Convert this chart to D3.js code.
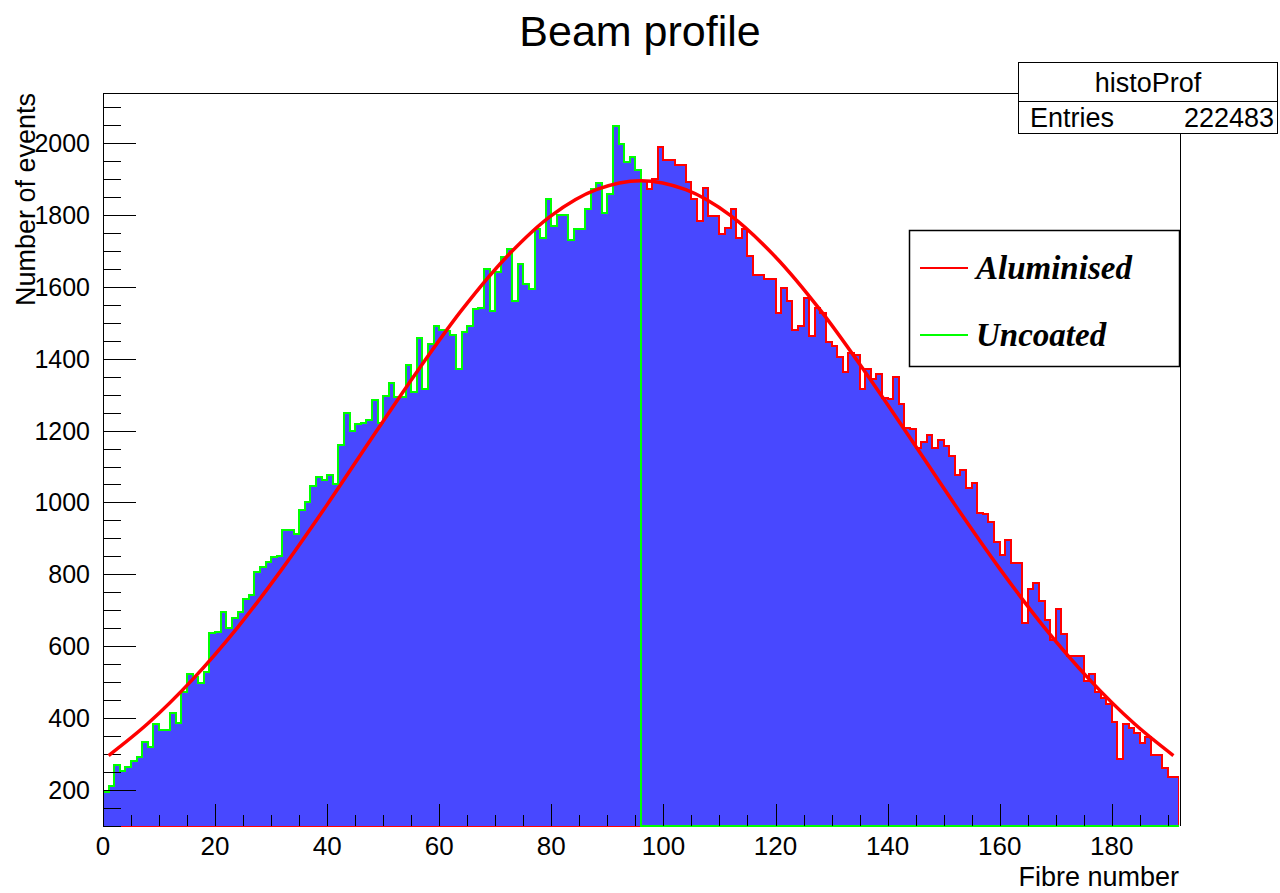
<!DOCTYPE html>
<html>
<head>
<meta charset="utf-8">
<script src="https://cdn.jsdelivr.net/npm/d3@7"></script>
<style>
  html, body { margin: 0; padding: 0; background: #fff; }
  svg { display: block; font-family: "Liberation Sans", Arial, Helvetica, sans-serif; }
</style>
</head>
<body>
<svg id="chart" width="1280" height="893"></svg>
<script>
// ---- data -------------------------------------------------------------
// Counts per fibre, fibres 0..95 (uncoated, green outline)
const uncoatedCounts = [
  195, 211, 270, 254, 265, 281, 292, 334, 320, 384,
  367, 367, 414, 386, 473, 523, 515, 498, 529, 637,
  640, 695, 651, 679, 695, 731, 743, 807, 821, 834,
  849, 850, 924, 924, 912, 980, 1000, 1045, 1071, 1063,
  1075, 1052, 1161, 1248, 1198, 1217, 1221, 1228, 1286, 1221,
  1296, 1333, 1292, 1292, 1382, 1307, 1458, 1317, 1441, 1490,
  1481, 1478, 1467, 1370, 1475, 1490, 1537, 1541, 1650, 1532,
  1640, 1684, 1704, 1560, 1662, 1609, 1593, 1760, 1737, 1845,
  1769, 1800, 1800, 1731, 1760, 1760, 1816, 1871, 1888, 1806,
  1857, 2046, 1997, 1948, 1962, 1925
];
// Counts per fibre, fibres 96..191 (aluminised, red outline)
const aluminisedCounts = [
  1894, 1871, 1899, 1990, 1953, 1953, 1938, 1938, 1891, 1843,
  1783, 1876, 1797, 1797, 1746, 1764, 1816, 1737, 1760, 1686,
  1632, 1632, 1622, 1622, 1527, 1597, 1560, 1479, 1490, 1569,
  1464, 1542, 1527, 1447, 1435, 1404, 1362, 1416, 1411, 1317,
  1372, 1344, 1356, 1291, 1288, 1349, 1275, 1207, 1204, 1152,
  1167, 1189, 1152, 1173, 1156, 1130, 1077, 1091, 1040, 1054,
  972, 968, 947, 889, 855, 895, 831, 831, 664, 759,
  776, 727, 673, 618, 703, 635, 573, 573, 573, 502,
  523, 474, 455, 440, 390, 285, 384, 372, 358, 330,
  348, 297, 297, 260, 237, 237
];
const nBins = 192;
const splitBin = 96;

// Fitted profile, sampled along the fibre axis
const fitFibres = [1, 8, 16, 24, 32, 40, 48, 56, 64, 72, 80, 88, 96,
                   104, 112, 120, 128, 136, 144, 152, 160, 168, 176, 184, 191];
const fitCounts = [296, 385, 508, 652, 816, 994, 1180, 1363, 1535, 1683, 1798, 1870, 1895,
                   1870, 1798, 1683, 1535, 1363, 1180, 994, 816, 652, 508, 385, 296];

const xTickValues = [0, 20, 40, 60, 80, 100, 120, 140, 160, 180];
const yTickValues = [200, 400, 600, 800, 1000, 1200, 1400, 1600, 1800, 2000];

const titleText = "Beam profile";
const xTitle = "Fibre number";
const yTitle = "Number of events";
const statName = "histoProf";
const statEntries = "222483";
const legendLabels = ["Aluminised", "Uncoated"];
const legendColors = ["#ff0000", "#00ff00"];

// ---- layout -----------------------------------------------------------
const frame = { left: 103, right: 1179, top: 93, bottom: 826 };
const svg = d3.select("#chart");

const x = d3.scaleLinear().domain([0, 192]).range([frame.left, frame.right]);
const y = d3.scaleLinear().domain([100, 2139]).range([frame.bottom, frame.top]).clamp(true);

const defs = svg.append("defs");
defs.append("clipPath").attr("id", "frameClip")
  .append("rect")
  .attr("x", frame.left).attr("y", frame.top)
  .attr("width", frame.right - frame.left).attr("height", frame.bottom - frame.top + 1);

// full-length histograms (zero outside their own fibre range)
const uncoatedHist = d3.range(nBins).map(i => i < splitBin ? uncoatedCounts[i] : 0);
const aluminisedHist = d3.range(nBins).map(i => i >= splitBin ? aluminisedCounts[i - splitBin] : 0);

function stepPoints(counts) {
  const pts = [[x(0), y(0)]];
  counts.forEach((v, i) => {
    pts.push([x(i), y(v)]);
    pts.push([x(i + 1), y(v)]);
  });
  pts.push([x(counts.length), y(0)]);
  return pts;
}
const line = d3.line();

const plot = svg.append("g").attr("clip-path", "url(#frameClip)");

function drawHist(counts, color) {
  const pts = stepPoints(counts);
  plot.append("path")
    .attr("d", line(pts) + "Z")
    .attr("fill", "#4848ff")
    .attr("stroke", "none");
  plot.append("path")
    .attr("d", line(pts))
    .attr("fill", "none")
    .attr("stroke", color)
    .attr("stroke-width", 2)
    .attr("shape-rendering", "crispEdges");
}
drawHist(aluminisedHist, "#ff0000");
drawHist(uncoatedHist, "#00ff00");

// ---- axes / frame -----------------------------------------------------
const axisG = svg.append("g").attr("stroke", "#000").attr("stroke-width", 1)
  .attr("shape-rendering", "crispEdges");

// y ticks (inside the frame, pointing right)
d3.range(100, 2139, 50).forEach(v => {
  const major = v % 200 === 0;
  axisG.append("line")
    .attr("x1", frame.left).attr("x2", frame.left + (major ? 33 : 18))
    .attr("y1", Math.round(y(v)) + 0.5).attr("y2", Math.round(y(v)) + 0.5);
});
// x ticks (inside the frame, pointing up)
d3.range(0, 192, 5).forEach(v => {
  const major = v % 20 === 0;
  axisG.append("line")
    .attr("x1", Math.round(x(v)) + 0.5).attr("x2", Math.round(x(v)) + 0.5)
    .attr("y1", frame.bottom).attr("y2", frame.bottom - (major ? 22 : 11));
});

// frame (bottom edge is carried by the histogram outlines)
axisG.append("line").attr("x1", frame.left + 0.5).attr("x2", frame.left + 0.5)
  .attr("y1", frame.top).attr("y2", frame.bottom);
axisG.append("line").attr("x1", frame.left).attr("x2", frame.right)
  .attr("y1", frame.top + 0.5).attr("y2", frame.top + 0.5);
axisG.append("line").attr("x1", frame.right + 1.5).attr("x2", frame.right + 1.5)
  .attr("y1", frame.top).attr("y2", frame.bottom);

// fitted profile
const fitLine = d3.line()
  .x((d, i) => x(fitFibres[i]))
  .y(d => y(d))
  .curve(d3.curveCatmullRom);
svg.append("path")
  .attr("d", fitLine(fitCounts))
  .attr("fill", "none")
  .attr("stroke", "#ff0000")
  .attr("stroke-width", 3.5);

// tick labels
svg.append("g").selectAll("text").data(yTickValues).join("text")
  .attr("x", 90).attr("y", d => y(d))
  .attr("dy", "0.36em")
  .attr("text-anchor", "end")
  .attr("font-size", 25)
  .text(d => d);

svg.append("g").selectAll("text").data(xTickValues).join("text")
  .attr("x", d => x(d)).attr("y", 855)
  .attr("text-anchor", "middle")
  .attr("font-size", 26)
  .text(d => d);

// axis titles
svg.append("text")
  .attr("x", frame.right).attr("y", 886)
  .attr("text-anchor", "end")
  .attr("font-size", 27)
  .text(xTitle);

svg.append("text")
  .attr("transform", `translate(35,${frame.top}) rotate(-90)`)
  .attr("text-anchor", "end")
  .attr("font-size", 27)
  .text(yTitle);

// title
svg.append("text")
  .attr("x", 640).attr("y", 46)
  .attr("text-anchor", "middle")
  .attr("font-size", 43)
  .text(titleText);

// statistics box
const stat = svg.append("g");
stat.append("rect")
  .attr("x", 1018.5).attr("y", 62.5).attr("width", 259).attr("height", 71)
  .attr("fill", "#fff").attr("stroke", "#000").attr("stroke-width", 1);
stat.append("line")
  .attr("x1", 1018).attr("x2", 1278).attr("y1", 101.5).attr("y2", 101.5)
  .attr("stroke", "#000").attr("stroke-width", 1);
stat.append("text").attr("x", 1148).attr("y", 92)
  .attr("text-anchor", "middle").attr("font-size", 27).text(statName);
stat.append("text").attr("x", 1030).attr("y", 127)
  .attr("font-size", 27).text("Entries");
stat.append("text").attr("x", 1274).attr("y", 127)
  .attr("text-anchor", "end").attr("font-size", 27).text(statEntries);

// legend
const legend = svg.append("g");
legend.append("rect")
  .attr("x", 909.5).attr("y", 230.5).attr("width", 270).attr("height", 136)
  .attr("fill", "#fff").attr("stroke", "#000").attr("stroke-width", 1.5);
const legendY = [268, 335];
legendLabels.forEach((lab, i) => {
  legend.append("line")
    .attr("x1", 920).attr("x2", 968)
    .attr("y1", legendY[i]).attr("y2", legendY[i])
    .attr("stroke", legendColors[i]).attr("stroke-width", 2);
  legend.append("text")
    .attr("x", 976).attr("y", legendY[i] + 11)
    .attr("font-family", "'Liberation Serif', 'Times New Roman', serif")
    .attr("font-weight", "bold").attr("font-style", "italic")
    .attr("font-size", 33)
    .text(lab);
});
</script>
</body>
</html>
